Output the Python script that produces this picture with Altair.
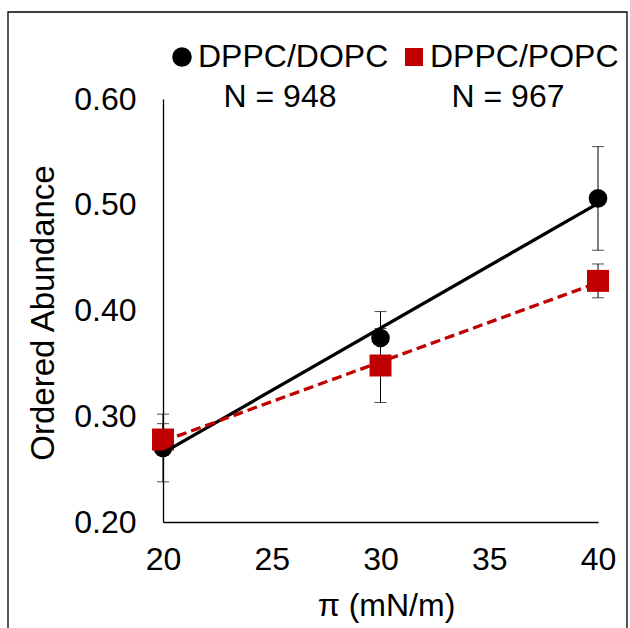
import altair as alt
import pandas as pd

# ---- data ----
pressure = [20, 30, 40]
series = ["DPPC/DOPC", "DPPC/POPC"]
n_labels = ["N = 948", "N = 967"]
dopc_mean = [0.270, 0.374, 0.506]
dopc_err = [0.032, 0.025, 0.049]
popc_mean = [0.278, 0.348, 0.428]
popc_err = [0.015, 0.035, 0.016]
x_ticks = [20, 25, 30, 35, 40]
y_ticks = [0.2, 0.3, 0.4, 0.5, 0.6]
colors = ["#000000", "#C00000"]

rows = []
for s, means, errs in [(series[0], dopc_mean, dopc_err), (series[1], popc_mean, popc_err)]:
    for p, m, e in zip(pressure, means, errs):
        rows.append({"pressure": p, "series": s, "mean": m, "lo": m - e, "hi": m + e})
df = pd.DataFrame(rows)
legend_df = pd.DataFrame({"series": series, "n": n_labels})

FONT = "Liberation Sans"
FS = 32
W, H = 435, 423

xs = alt.Scale(domain=[20, 40], nice=False, zero=False)
ys = alt.Scale(domain=[0.2, 0.6], nice=False, zero=False)

x_axis = alt.Axis(values=x_ticks, title="π (mN/m)", grid=False, ticks=False, tickSize=0,
                  domainColor="#000000", domainWidth=1.3, labelPadding=22,
                  labelFlush=False, labelOverlap=False,
                  labelFont=FONT, labelFontSize=FS, labelColor="#000000",
                  titleFont=FONT, titleFontSize=FS, titleFontWeight="normal", titleColor="#000000",
                  titleBaseline="alphabetic", titleY=93, titleX=223)
y_axis = alt.Axis(values=y_ticks, format=".2f", title="Ordered Abundance", grid=False, ticks=False,
                  tickSize=0, domainColor="#000000", domainWidth=1.3, labelPadding=27,
                  labelFlush=False, labelOverlap=False,
                  labelFont=FONT, labelFontSize=FS, labelColor="#000000",
                  titleFont=FONT, titleFontSize=33, titleFontWeight="normal", titleColor="#000000",
                  titleBaseline="alphabetic", titleX=-110, titleY=H / 2 + 2)

X = alt.X("pressure:Q", scale=xs, axis=x_axis)


def Y(field):
    return alt.Y(f"{field}:Q", scale=ys, axis=y_axis)


base = alt.Chart(df)

err_rule = base.mark_rule(color="#000000", strokeWidth=1).encode(x=X, y=Y("lo"), y2="hi:Q")
cap_lo = base.mark_tick(orient="horizontal", size=12, thickness=1, color="#000000").encode(x=X, y=Y("lo"))
cap_hi = base.mark_tick(orient="horizontal", size=12, thickness=1, color="#000000").encode(x=X, y=Y("hi"))

circles = base.transform_filter(alt.datum.series == series[0]).mark_point(
    shape="circle", filled=True, size=346, opacity=1, color=colors[0]
).encode(x=X, y=Y("mean"))
squares = base.transform_filter(alt.datum.series == series[1]).mark_point(
    shape="square", filled=True, size=484, opacity=1, color=colors[1]
).encode(x=X, y=Y("mean"))

trend_black = base.transform_filter(alt.datum.series == series[0]).transform_regression(
    "pressure", "mean", extent=[20, 40]
).mark_line(color=colors[0], strokeWidth=3.3).encode(x=X, y=Y("mean"))
trend_red = base.transform_filter(alt.datum.series == series[1]).transform_regression(
    "pressure", "mean", extent=[20, 40]
).mark_line(color=colors[1], strokeWidth=3.3, strokeDash=[10, 5]).encode(x=X, y=Y("mean"))

# ---- legend (custom, as in the reference) ----
lg = alt.Chart(legend_df)
lg_circle = lg.transform_filter(alt.datum.series == series[0]).mark_point(
    shape="circle", filled=True, size=380, opacity=1, color=colors[0]
).encode(x=alt.value(19), y=alt.value(-42))
lg_square = lg.transform_filter(alt.datum.series == series[1]).mark_point(
    shape="square", filled=True, size=324, opacity=1, color=colors[1]
).encode(x=alt.value(251), y=alt.value(-42))
lg_text1 = lg.transform_filter(alt.datum.series == series[0]).mark_text(
    font=FONT, fontSize=FS, align="left", baseline="middle", color="#000000"
).encode(x=alt.value(35), y=alt.value(-42), text="series:N")
lg_text2 = lg.transform_filter(alt.datum.series == series[1]).mark_text(
    font=FONT, fontSize=FS, align="left", baseline="middle", color="#000000"
).encode(x=alt.value(267), y=alt.value(-42), text="series:N")
lg_n1 = lg.transform_filter(alt.datum.series == series[0]).mark_text(
    font=FONT, fontSize=FS, align="center", baseline="middle", color="#000000"
).encode(x=alt.value(117), y=alt.value(-2), text="n:N")
lg_n2 = lg.transform_filter(alt.datum.series == series[1]).mark_text(
    font=FONT, fontSize=FS, align="center", baseline="middle", color="#000000"
).encode(x=alt.value(345), y=alt.value(-2), text="n:N")

# outer frame of the figure
frame = alt.Chart(pd.DataFrame({"a": [0]})).mark_rect(
    fill=None, stroke="#000000", strokeWidth=1.3, clip=False
).encode(x=alt.value(-155), x2=alt.value(464), y=alt.value(-87), y2=alt.value(540))

chart = alt.layer(
    frame, err_rule, cap_lo, cap_hi, circles, squares, trend_black, trend_red,
    lg_circle, lg_square, lg_text1, lg_text2, lg_n1, lg_n2
).properties(
    width=W, height=H,
    padding={"left": 163, "top": 99, "right": 32, "bottom": 106},
    autosize=alt.AutoSizeParams(type="none"),
    background="#ffffff",
).configure_view(stroke=None)

chart.save("out.html", embed_options={"renderer": "svg", "actions": False})
